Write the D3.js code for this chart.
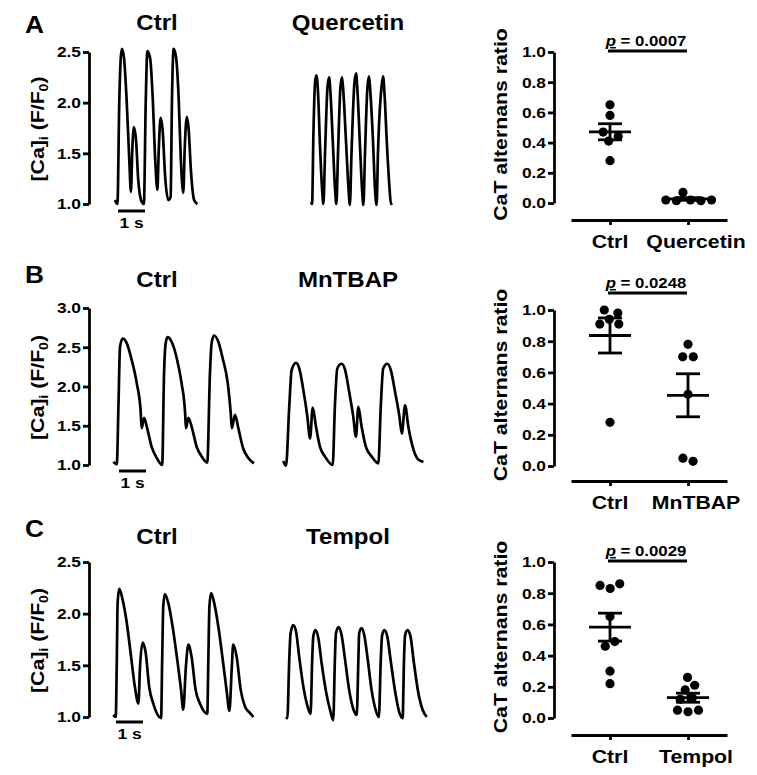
<!DOCTYPE html>
<html>
<head>
<meta charset="utf-8">
<script src="https://cdn.jsdelivr.net/npm/d3@7"></script>
<style>
	body { margin: 0; background: #fff; }
	svg { display: block; font-family: "Liberation Sans", Arial, Helvetica, sans-serif; font-weight: bold; }
</style>
</head>
<body>
<svg id="fig" width="757" height="775"></svg>
<script>
// Ca transients: [time (s), F/F0]
const ctrlTraceA = [
	[0, 1.04], [0.09, 1.0], [0.16, 2.03], [0.25, 2.53], [0.33, 2.45], [0.43, 2.03], [0.53, 1.43], [0.59, 1.12],
	[0.64, 1.53], [0.70, 1.76], [0.78, 1.63], [0.86, 1.24], [0.99, 1.02], [1.07, 1.0], [1.14, 2.03], [1.20, 2.51],
	[1.30, 2.44], [1.40, 2.03], [1.49, 1.43], [1.57, 1.14], [1.62, 1.53], [1.69, 1.85], [1.77, 1.71], [1.85, 1.30],
	[1.97, 1.04], [2.06, 1.07], [2.11, 2.03], [2.17, 2.53], [2.26, 2.45], [2.36, 2.03], [2.44, 1.43], [2.53, 1.11],
	[2.58, 1.53], [2.66, 1.86], [2.73, 1.73], [2.81, 1.34], [2.93, 1.04], [3.05, 1.0],
];
const quercetinTrace = [
	[0, 1.02], [0.04, 1.0], [0.09, 1.7], [0.15, 2.2], [0.20, 2.27], [0.26, 2.1], [0.33, 1.6], [0.41, 1.15], [0.46, 1.0],
	[0.52, 1.5], [0.61, 2.15], [0.67, 2.25], [0.72, 2.1], [0.81, 1.6], [0.89, 1.15], [0.94, 1.0],
	[1.00, 1.5], [1.09, 2.15], [1.15, 2.25], [1.20, 2.1], [1.30, 1.6], [1.39, 1.15], [1.44, 0.99],
	[1.50, 1.5], [1.61, 2.2], [1.67, 2.29], [1.72, 2.12], [1.81, 1.6], [1.89, 1.15], [1.94, 0.99],
	[2.00, 1.5], [2.09, 2.15], [2.15, 2.26], [2.20, 2.1], [2.30, 1.6], [2.37, 1.15], [2.43, 0.99],
	[2.48, 1.5], [2.61, 2.15], [2.67, 2.26], [2.72, 2.1], [2.81, 1.6], [2.91, 1.15], [2.96, 1.0], [3.00, 1.01],
];
const ctrlTraceB = [
	[0, 1.04], [0.13, 1.01], [0.19, 1.74], [0.25, 2.51], [0.35, 2.61], [0.50, 2.55], [0.68, 2.34], [0.87, 2.04],
	[1.01, 1.70], [1.05, 1.47], [1.14, 1.60], [1.24, 1.49], [1.42, 1.23], [1.61, 1.09], [1.81, 1.0],
	[1.88, 2.17], [1.94, 2.55], [2.01, 2.63], [2.16, 2.57], [2.35, 2.36], [2.53, 2.04], [2.66, 1.66], [2.69, 1.47],
	[2.78, 1.60], [2.90, 1.49], [3.09, 1.23], [3.27, 1.11], [3.48, 1.03],
	[3.58, 2.17], [3.64, 2.55], [3.73, 2.65], [3.89, 2.57], [4.05, 2.36], [4.24, 2.04], [4.35, 1.66], [4.39, 1.47],
	[4.51, 1.64], [4.63, 1.47], [4.81, 1.21], [5.00, 1.09], [5.21, 1.02],
];
const mntbapTrace = [
	[0, 1.05], [0.10, 0.99], [0.22, 1.74], [0.31, 2.21], [0.47, 2.30], [0.59, 2.23], [0.74, 1.96], [0.89, 1.62],
	[0.99, 1.34], [1.09, 1.73], [1.21, 1.49], [1.36, 1.23], [1.54, 1.11], [1.83, 1.0],
	[1.91, 1.74], [2.00, 2.23], [2.16, 2.29], [2.29, 2.21], [2.44, 1.93], [2.59, 1.62], [2.69, 1.36],
	[2.78, 1.74], [2.90, 1.49], [3.06, 1.23], [3.27, 1.11], [3.52, 1.02],
	[3.61, 1.74], [3.70, 2.23], [3.85, 2.29], [3.98, 2.21], [4.14, 1.93], [4.30, 1.62], [4.39, 1.40],
	[4.51, 1.76], [4.63, 1.49], [4.81, 1.21], [5.00, 1.07], [5.19, 1.04],
];
const ctrlTraceC = [
	[0, 1.02], [0.09, 1.0], [0.13, 1.55], [0.16, 2.10], [0.22, 2.24], [0.35, 2.13], [0.50, 1.91], [0.66, 1.58],
	[0.80, 1.29], [0.93, 1.13], [0.99, 1.49], [1.09, 1.72], [1.20, 1.62], [1.33, 1.29], [1.48, 1.13], [1.77, 0.99],
	[1.81, 1.55], [1.85, 2.07], [1.91, 2.19], [2.04, 2.10], [2.20, 1.87], [2.37, 1.55], [2.51, 1.26], [2.59, 1.07],
	[2.69, 1.49], [2.78, 1.70], [2.90, 1.58], [3.05, 1.26], [3.21, 1.13], [3.48, 1.03],
	[3.52, 1.55], [3.56, 2.07], [3.62, 2.20], [3.74, 2.10], [3.91, 1.84], [4.07, 1.52], [4.20, 1.25], [4.30, 1.06],
	[4.39, 1.49], [4.44, 1.70], [4.57, 1.58], [4.72, 1.26], [4.88, 1.10], [5.06, 1.04], [5.19, 1.0],
];
const tempolTrace = [
	[0, 1.0], [0.05, 0.99], [0.12, 1.55], [0.17, 1.81], [0.27, 1.89], [0.37, 1.83], [0.49, 1.58], [0.62, 1.33],
	[0.77, 1.13], [0.91, 1.03], [0.97, 1.55], [1.01, 1.78], [1.09, 1.84], [1.20, 1.76], [1.32, 1.52], [1.48, 1.25],
	[1.63, 1.07], [1.75, 0.97], [1.81, 1.55], [1.85, 1.81], [1.95, 1.87], [2.06, 1.79], [2.19, 1.55], [2.34, 1.26],
	[2.49, 1.08], [2.62, 1.02], [2.68, 1.55], [2.71, 1.81], [2.80, 1.86], [2.90, 1.79], [3.03, 1.55], [3.17, 1.26],
	[3.32, 1.07], [3.44, 1.0], [3.51, 1.55], [3.56, 1.79], [3.64, 1.84], [3.75, 1.78], [3.88, 1.54], [4.04, 1.25],
	[4.19, 1.05], [4.32, 0.99], [4.37, 1.55], [4.41, 1.79], [4.50, 1.84], [4.61, 1.78], [4.73, 1.54], [4.89, 1.25],
	[5.06, 1.07], [5.21, 1.0],
];

// y tick values
const traceTicksA = [1.0, 1.5, 2.0, 2.5];
const traceTicksB = [1.0, 1.5, 2.0, 2.5, 3.0];
const traceTicksC = [1.0, 1.5, 2.0, 2.5];
const ratioTicks = [0.0, 0.2, 0.4, 0.6, 0.8, 1.0];

// CaT alternans ratio, one value per cell
const groupsA = ['Ctrl', 'Quercetin'];
const ctrlRatioA = [0.65, 0.58, 0.47, 0.44, 0.41, 0.28];
const quercetinRatio = [0.02, 0.015, 0.02, 0.015, 0.02, 0.07];
const groupsB = ['Ctrl', 'MnTBAP'];
const ctrlRatioB = [1.0, 0.98, 0.94, 0.91, 0.91, 0.28];
const mntbapRatio = [0.78, 0.70, 0.70, 0.46, 0.03, 0.05];
const groupsC = ['Ctrl', 'Tempol'];
const ctrlRatioC = [0.85, 0.83, 0.86, 0.65, 0.49, 0.46, 0.30, 0.22];
const tempolRatio = [0.26, 0.18, 0.21, 0.12, 0.13, 0.05, 0.04, 0.05];
const pValues = ['0.0007', '0.0248', '0.0029'];

// layout of the three rows
const PX_PER_S = 27;
const WIDE = 1.12; // the lettering in the figure is wider than Arial
const rows = [
	{
		letter: 'A', letterY: 33, titleY: 30, traceRange: [204, 52], traceMax: 2.5, traceTicks: traceTicksA,
		traces: [{ name: groupsA[0], x0: 115, data: ctrlTraceA }, { name: groupsA[1], x0: 311, data: quercetinTrace }],
		bar: [118, 211], ratioRange: [203, 52], groups: groupsA, ratios: [ctrlRatioA, quercetinRatio], p: pValues[0], sigY: 51, xAxisY: 220,
	},
	{
		letter: 'B', letterY: 283, titleY: 287, traceRange: [465, 308], traceMax: 3.0, traceTicks: traceTicksB,
		traces: [{ name: groupsB[0], x0: 113.3, data: ctrlTraceB }, { name: groupsB[1], x0: 283.3, data: mntbapTrace }],
		bar: [119, 471], ratioRange: [466, 310], groups: groupsB, ratios: [ctrlRatioB, mntbapRatio], p: pValues[1], sigY: 293, xAxisY: 481,
	},
	{
		letter: 'C', letterY: 537, titleY: 544, traceRange: [717, 562], traceMax: 2.5, traceTicks: traceTicksC,
		traces: [{ name: groupsC[0], x0: 113.3, data: ctrlTraceC }, { name: groupsC[1], x0: 286, data: tempolTrace }],
		bar: [116, 722], ratioRange: [718, 562], groups: groupsC, ratios: [ctrlRatioC, tempolRatio], p: pValues[2], sigY: 561, xAxisY: 735,
	},
];
const titleX = [157, 348];

const svg = d3.select('#fig');
svg.append('rect').attr('width', 757).attr('height', 775).attr('fill', '#fff');

function label(g, str, x, y, size, anchor = 'middle', rotate = 0) {
	return g.append('text')
		.attr('transform', `translate(${x},${y}) rotate(${rotate}) scale(${WIDE},1)`)
		.attr('text-anchor', anchor)
		.attr('font-size', size)
		.text(str);
}

function styleAxis(g, size) {
	g.attr('font-family', null).attr('font-size', null);
	g.selectAll('path, line').attr('stroke', '#000').attr('stroke-width', 2.8);
	g.selectAll('text').attr('font-size', size).attr('fill', '#000');
}

function swarm(values, cx, y, r) {
	// Spread the dots sideways like a scatter dot plot
	const nodes = values.map(v => ({ v, x: cx, y: y(v), fy: y(v) }));
	d3.forceSimulation(nodes)
		.force('x', d3.forceX(cx).strength(0.08))
		.force('collide', d3.forceCollide(r + 0.7))
		.stop()
		.tick(300);
	return nodes;
}

rows.forEach((row, i) => {
	const g = svg.append('g').attr('class', `row-${row.letter}`);

	// Panel letter
	label(g, row.letter, 25, row.letterY, 23.5, 'start');

	// Traces
	const y = d3.scaleLinear().domain([1, row.traceMax]).range(row.traceRange);
	const line = d3.line().curve(d3.curveMonotoneX);
	row.traces.forEach((trace, j) => {
		const x = d3.scaleLinear().domain([0, 1]).range([trace.x0, trace.x0 + PX_PER_S]);
		line.x(d => x(d[0])).y(d => y(d[1]));
		g.append('path').datum(trace.data)
			.attr('d', line)
			.attr('fill', 'none').attr('stroke', '#000').attr('stroke-width', 2.7)
			.attr('stroke-linejoin', 'round');
		label(g, trace.name, titleX[j], row.titleY, 21.5);
	});

	// Trace y axis
	const yAxis = g.append('g').attr('transform', 'translate(89,0)')
		.call(d3.axisLeft(y).tickValues(row.traceTicks).tickSize(6).tickSizeOuter(0).tickFormat(d3.format('.1f')));
	styleAxis(yAxis, 15.5);
	yAxis.selectAll('.tick text').attr('x', -8 / WIDE).attr('transform', `scale(${WIDE},1)`);
	const yMid = (row.traceRange[0] + row.traceRange[1]) / 2;
	const yLabel = label(g, '', 44, yMid + 1, 19, 'middle', -90);
	yLabel.append('tspan').text('[Ca]');
	yLabel.append('tspan').attr('font-size', 12.5).attr('dy', 4).text('i');
	yLabel.append('tspan').attr('dy', -4).text(' (F/F');
	yLabel.append('tspan').attr('font-size', 12.5).attr('dy', 4).text('0');
	yLabel.append('tspan').attr('dy', -4).text(')');

	// 1 s scale bar
	g.append('line')
		.attr('x1', row.bar[0]).attr('x2', row.bar[0] + PX_PER_S)
		.attr('y1', row.bar[1]).attr('y2', row.bar[1])
		.attr('stroke', '#000').attr('stroke-width', 3);
	label(g, '1 s', row.bar[0] + PX_PER_S / 2, row.bar[1] + 17, 15.5);

	// Scatter dot plot
	const ry = d3.scaleLinear().domain([0, 1]).range(row.ratioRange);
	const rx = d3.scalePoint().domain(row.groups).range([571, 727]).padding(0.5);

	const ryAxis = g.append('g').attr('transform', 'translate(554,0)')
		.call(d3.axisLeft(ry).tickValues(ratioTicks).tickSize(6).tickSizeOuter(0).tickFormat(d3.format('.1f')));
	styleAxis(ryAxis, 15.5);
	ryAxis.selectAll('.tick text').attr('x', -8 / WIDE).attr('transform', `scale(${WIDE},1)`);
	const ryMid = (row.ratioRange[0] + row.ratioRange[1]) / 2;
	label(g, 'CaT alternans ratio', 507, ryMid - 3, 19, 'middle', -90);

	const rxAxis = g.append('g').attr('transform', `translate(0,${row.xAxisY})`)
		.call(d3.axisBottom(rx).tickSize(5).tickSizeOuter(0));
	styleAxis(rxAxis, 19);
	rxAxis.selectAll('.tick text').remove();
	row.groups.forEach((name, k) => {
		label(g, name, rx(name) + (k === 1 ? 8 : 0), row.xAxisY + 28, 19);
	});

	const r = 4.6;
	row.groups.forEach((name, k) => {
		const values = row.ratios[k];
		const cx = rx(name);
		const nodes = swarm(values, cx, ry, r);
		g.append('g').selectAll('circle').data(nodes).enter().append('circle')
			.attr('cx', d => d.x).attr('cy', d => d.y).attr('r', r).attr('fill', '#000');

		const mean = d3.mean(values);
		const sem = d3.deviation(values) / Math.sqrt(values.length);
		const stats = g.append('g').attr('stroke', '#000').attr('stroke-width', 2.8);
		stats.append('line').attr('x1', cx - 21).attr('x2', cx + 21).attr('y1', ry(mean)).attr('y2', ry(mean));
		[mean - sem, mean + sem].forEach((v) => {
			stats.append('line').attr('x1', cx - 12).attr('x2', cx + 12).attr('y1', ry(v)).attr('y2', ry(v));
		});
		stats.append('line').attr('x1', cx).attr('x2', cx).attr('y1', ry(mean - sem)).attr('y2', ry(mean + sem));
	});

	// Significance bar
	const x1 = rx(row.groups[0]);
	const x2 = rx(row.groups[1]);
	g.append('line').attr('x1', x1 - 2).attr('x2', x2 - 1).attr('y1', row.sigY).attr('y2', row.sigY)
		.attr('stroke', '#000').attr('stroke-width', 3);
	const pText = label(g, '', 646, row.sigY - 5, 15);
	pText.append('tspan').attr('font-style', 'italic').attr('text-decoration', 'underline').text('p');
	pText.append('tspan').text(` = ${row.p}`);
});
</script>
</body>
</html>
